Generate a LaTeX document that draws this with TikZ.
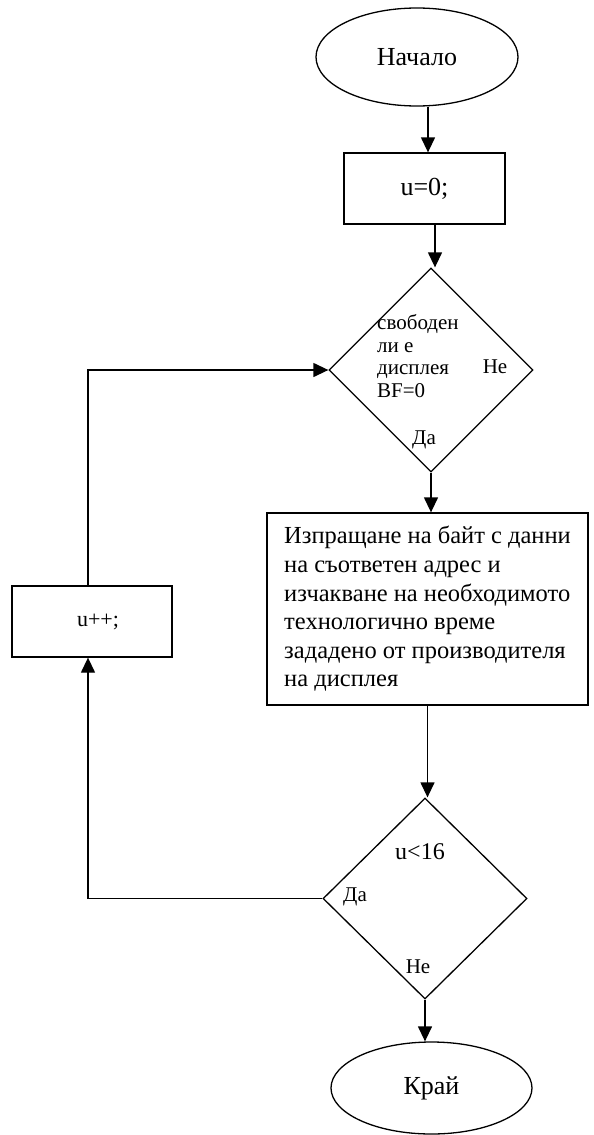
\documentclass[tikz,border=0pt]{standalone}
\usepackage{fontspec}
\setmainfont{Liberation Serif}
\usetikzlibrary{shapes.geometric,arrows.meta}
\begin{document}
\begin{tikzpicture}[x=1pt,y=-1pt,
  every node/.style={inner sep=0pt},
  line/.style={line width=1.3pt},
  arr/.style={line, -{Triangle[length=15pt,width=14pt]}},
  term/.style={draw, line width=1.3pt, ellipse, font=\fontsize{26}{30}\selectfont},
  procbox/.style={draw, line width=1.3pt, rectangle},
  decision/.style={draw, line width=1.3pt, diamond, aspect=1},
  lbl/.style={font=\fontsize{21}{24}\selectfont}]
\useasboundingbox (0,0) rectangle (594,1135);
\node[term, minimum width=202pt, minimum height=98pt] (start) at (417,57) {Начало};
\node[procbox, minimum width=161pt, minimum height=71pt, font=\fontsize{26}{30}\selectfont] (init) at (424.5,188.5) {u=0;};
\node[decision, minimum width=204pt, minimum height=204pt] (d1) at (431,370) {};
\node[anchor=west, align=left, font=\fontsize{21}{22.7}\selectfont] (d1txt) at (377,356) {свободен\\ли е\\дисплея\\BF=0};
\node[lbl] (d1no) at (495,367) {Не};
\node[lbl] (d1yes) at (424,440) {Да};
\node[procbox, minimum width=321pt, minimum height=192pt, align=left, font=\fontsize{24.5}{28.6}\selectfont] (send) at (427.5,609)
  {Изпращане на байт с данни\\на съответен адрес и\\изчакване на необходимото\\технологично време\\зададено от производителя\\на дисплея};
\node[procbox, minimum width=160pt, minimum height=71pt, font=\fontsize{22}{25}\selectfont] (inc) at (92,621.5) {\hspace*{12pt}u++;};
\node[decision, minimum width=204pt, minimum height=201pt] (d2) at (425,898.5) {};
\node[font=\fontsize{24}{27}\selectfont] (d2txt) at (420,852) {u<16};
\node[lbl] (d2yes) at (355,897) {Да};
\node[lbl] (d2no) at (418,967) {Не};
\node[term, minimum width=201pt, minimum height=92pt] (stop) at (431.5,1088) {Край};
\draw[arr] ([xshift=11pt]start.south) -- ([xshift=11pt]start.south |- init.north);
\draw[arr] ([xshift=4pt]d1.north |- init.south) -- ([xshift=4pt]d1.north);
\draw[arr] (d1.south) -- (d1.south |- send.north);
\draw[arr] (send.south) -- (send.south |- d2.north);
\draw[arr] (d2.south) -- (d2.south |- stop.north);
\draw[arr] ([xshift=-4pt]inc.north) |- (d1.west);
\draw[arr] (d2.west) -| ([xshift=-4pt]inc.south);
\end{tikzpicture}
\end{document}
